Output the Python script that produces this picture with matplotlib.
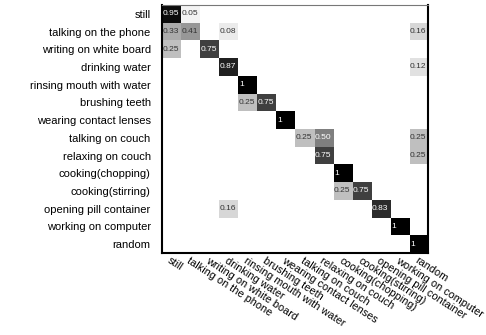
import numpy as np
import matplotlib
matplotlib.use('Agg')
import matplotlib.pyplot as plt
from matplotlib.transforms import ScaledTranslation

plt.rcParams['font.family'] = ['Liberation Sans', 'DejaVu Sans']

labels = ['still', 'talking on the phone', 'writing on white board',
          'drinking water', 'rinsing mouth with water', 'brushing teeth',
          'wearing contact lenses', 'talking on couch', 'relaxing on couch',
          'cooking(chopping)', 'cooking(stirring)', 'opening pill container',
          'working on computer', 'random']

# (row, col, value)
cells = [(0, 0, 0.95), (0, 1, 0.05),
         (1, 0, 0.33), (1, 1, 0.41), (1, 3, 0.08), (1, 13, 0.16),
         (2, 0, 0.25), (2, 2, 0.75),
         (3, 3, 0.87), (3, 13, 0.12),
         (4, 4, 1.0),
         (5, 4, 0.25), (5, 5, 0.75),
         (6, 6, 1.0),
         (7, 7, 0.25), (7, 8, 0.50), (7, 13, 0.25),
         (8, 8, 0.75), (8, 13, 0.25),
         (9, 9, 1.0),
         (10, 9, 0.25), (10, 10, 0.75),
         (11, 3, 0.16), (11, 11, 0.83),
         (12, 12, 1.0),
         (13, 13, 1.0)]

n = len(labels)
mat = np.zeros((n, n))
for r, c, v in cells:
    mat[r, c] = v

fig = plt.figure(figsize=(4.86, 3.35), dpi=100)
ax = fig.add_axes([0.333, 0.245, 0.548, 0.740])
ax.imshow(mat, cmap='gray_r', vmin=0, vmax=1, aspect='auto',
          interpolation='nearest')

for r, c, v in cells:
    txt = '1' if v == 1.0 else '%.2f' % v
    col = 'white' if v >= 0.5 else '#333333'
    ax.text(c - 0.45, r, txt, ha='left', va='center', fontsize=6, color=col)

ax.set_xticks(range(n))
ax.set_yticks(range(n))
ax.set_yticklabels(labels, fontsize=8)
ax.set_xticklabels(labels, fontsize=7.8, rotation=-33, ha='left',
                   rotation_mode='anchor')
shift = ScaledTranslation(-0.06, 0, fig.dpi_scale_trans)
for lab in ax.get_xticklabels():
    lab.set_transform(lab.get_transform() + shift)
ax.tick_params(axis='y', length=0, pad=8)
ax.tick_params(axis='x', length=0, pad=2)
for side in ['left', 'bottom', 'right']:
    ax.spines[side].set_linewidth(1.5)
ax.spines['top'].set_color('#777777')

fig.savefig('out.png', dpi=100)
